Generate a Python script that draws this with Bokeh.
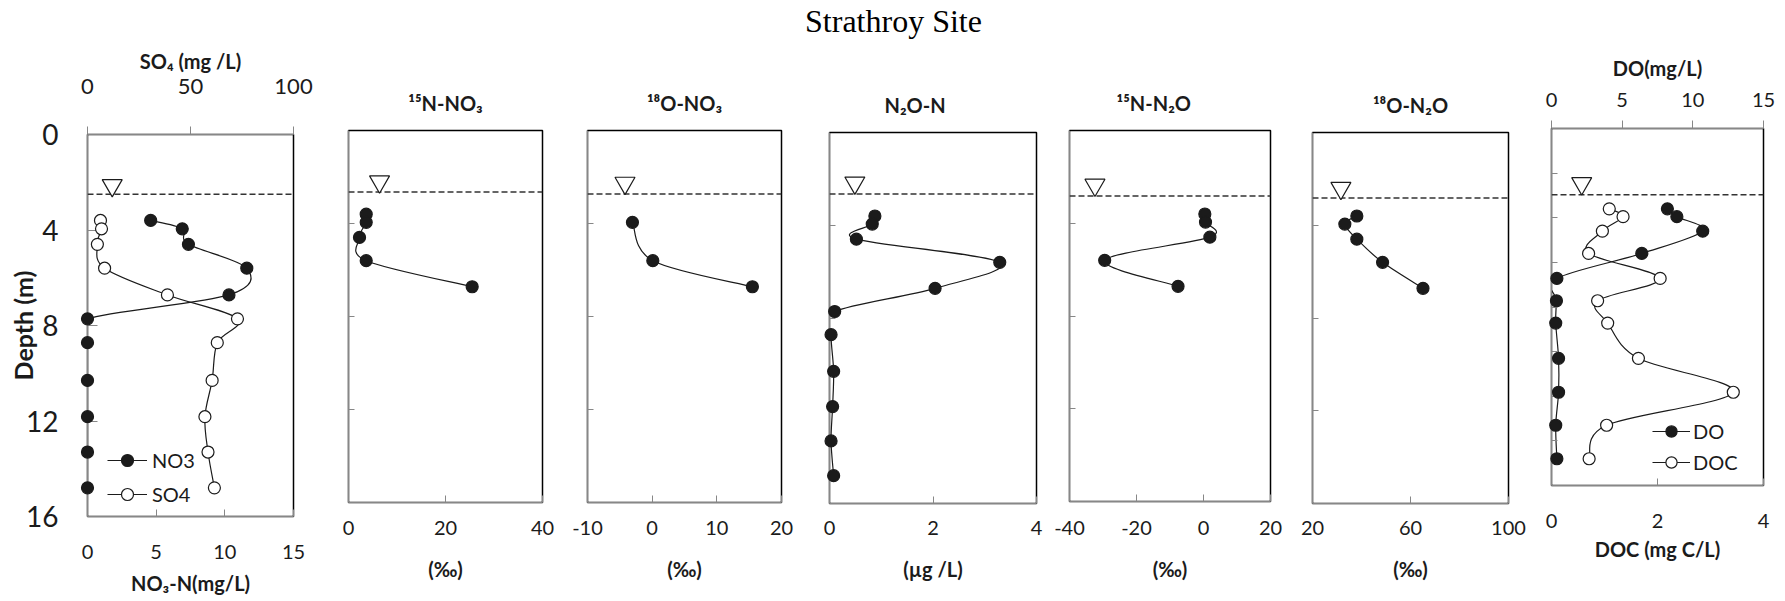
from bokeh.plotting import figure
from bokeh.models import (Range1d, LinearAxis, FixedTicker, Span, Legend, LegendItem,
                          ColumnDataSource, CustomJSTickFormatter)
from bokeh.layouts import row, column
from bokeh.embed import file_html
from bokeh.resources import INLINE
from bokeh.core.validation import silence
from bokeh.core.validation.warnings import MISSING_RENDERERS

silence(MISSING_RENDERERS, True)

# ---------------- data ----------------
depth = [3.6, 3.95, 4.6, 5.6, 6.72, 7.72, 8.72, 10.3, 11.82, 13.3, 14.8]
no3_n = [4.6, 6.9, 7.35, 11.6, 10.3, 0.0, 0.0, 0.0, 0.0, 0.0, 0.0]
so4 = [6.3, 6.8, 4.8, 8.3, 38.8, 72.8, 63.0, 60.5, 57.0, 58.5, 61.6]
iso_depth = [3.6, 3.95, 4.6, 5.6, 6.72]
d15n_no3 = [3.65, 3.65, 2.27, 3.65, 25.5]
d18o_no3_depth = [3.95, 5.6, 6.72]
d18o_no3 = [-3.05, 0.1, 15.5]
n2o_n = [0.877, 0.826, 0.52, 3.29, 2.04, 0.10, 0.03, 0.08, 0.06, 0.03, 0.08]
d15n_n2o = [0.4, 0.6, 1.9, -29.5, -7.6]
d18o_n2o = [38.1, 33.2, 38.1, 48.6, 65.1]
do_mg = [8.2, 8.87, 10.7, 6.39, 0.38, 0.35, 0.3, 0.5, 0.5, 0.3, 0.38]
doc_mg = [1.09, 1.35, 0.96, 0.70, 2.05, 0.87, 1.06, 1.64, 3.43, 1.04, 0.71]

# water table (dashed line) and its marker, per panel
wt_depth = [2.5, 2.65, 2.73, 2.65, 2.83, 2.82, 2.97]
wt_marker_depth = [2.13, 2.2, 2.26, 2.17, 2.35, 2.4, 2.46]
wt_marker_x = [1.8, 6.4, -4.2, 0.49, -32.4, 31.6, 0.57]

main_title = "Strathroy Site"
panel_titles = ["", "¹⁵N-NO₃", "¹⁸O-NO₃", "N₂O-N", "¹⁵N-N₂O", "¹⁸O-N₂O", ""]
bottom_labels = ["NO₃-N(mg/L)", "(‰)", "(‰)", "(µg /L)", "(‰)", "(‰)", "DOC (mg C/L)"]
top_labels = ["SO₄ (mg /L)", "DO(mg/L)"]
x_limits = [(0, 15), (0, 40), (-10, 20), (0, 4), (-40, 20), (20, 100), (0, 4)]
x_ticks = [[0, 5, 10, 15], [0, 20, 40], [-10, 0, 10, 20], [0, 2, 4], [-40, -20, 0, 20], [20, 60, 100], [0, 2, 4]]
depth_ticks_main = [0, 4, 8, 12, 16]
so4_ticks = [0, 50, 100]
do_ticks = [0, 5, 10, 15]

FONT = "Lato"
GREY = "#878787"
INK = "#1b1b1b"

TITLE_H = 40
ROW_H = 560
# width, min_border left, right, top, bottom
geom = [
    (320, 87, 27, 94, 84),
    (244, 28, 22, 90, 98),
    (241, 23, 24, 90, 98),
    (245, 24, 14, 92, 97),
    (241, 19, 21, 90, 99),
    (238, 21, 21, 92, 97),
    (248, 22, 14, 88, 115),
]
# bottom tick-label standoff, bottom axis-label standoff
bottom_std = [(28, 9), (18, 19), (18, 19), (17, 19), (19, 19), (17, 19), (28, 6)]


def smooth(xs, ys):
    n = len(xs)
    d = dict(x0=[], y0=[], x1=[], y1=[], cx0=[], cy0=[], cx1=[], cy1=[])
    for i in range(n - 1):
        a = max(i - 1, 0)
        b = min(i + 2, n - 1)
        d["x0"].append(xs[i]); d["y0"].append(ys[i])
        d["x1"].append(xs[i + 1]); d["y1"].append(ys[i + 1])
        d["cx0"].append(xs[i] + (xs[i + 1] - xs[a]) / 6.0)
        d["cy0"].append(ys[i] + (ys[i + 1] - ys[a]) / 6.0)
        d["cx1"].append(xs[i + 1] - (xs[b] - xs[i]) / 6.0)
        d["cy1"].append(ys[i + 1] - (ys[b] - ys[i]) / 6.0)
    return ColumnDataSource(d)


def style_x_axis(ax, ticks, label, standoff, label_standoff):
    ax.ticker = FixedTicker(ticks=ticks)
    ax.formatter = CustomJSTickFormatter(code="return tick.toString()")
    ax.axis_label = label
    ax.axis_line_color = GREY
    ax.major_tick_line_color = GREY
    ax.minor_tick_line_color = None
    ax.major_tick_in = 7
    ax.major_tick_out = 0
    ax.major_label_standoff = standoff
    ax.major_label_text_font = FONT
    ax.major_label_text_font_size = "20px"
    ax.major_label_text_color = INK
    ax.axis_label_standoff = label_standoff
    ax.axis_label_text_font = FONT
    ax.axis_label_text_font_size = "20px"
    ax.axis_label_text_font_style = "bold"
    ax.axis_label_text_color = INK


def make_panel(i, left_ticks):
    w, ml, mr, mt, mb = geom[i]
    x0, x1 = x_limits[i]
    p = figure(width=w, height=ROW_H, x_range=Range1d(x0, x1), y_range=Range1d(16, 0),
               output_backend="svg", toolbar_location=None,
               min_border_left=ml, min_border_right=mr, min_border_top=mt, min_border_bottom=mb)
    try:
        p.frame_align = False
    except Exception:
        pass
    p.grid.visible = False
    p.outline_line_color = "black"
    p.outline_line_width = 1.5
    p.background_fill_color = "white"
    p.border_fill_color = "white"
    style_x_axis(p.xaxis[0], x_ticks[i], bottom_labels[i], bottom_std[i][0], bottom_std[i][1])
    ya = p.yaxis[0]
    ya.ticker = FixedTicker(ticks=left_ticks)
    ya.axis_line_color = GREY
    ya.major_tick_line_color = GREY
    ya.minor_tick_line_color = None
    ya.major_tick_in = 6
    ya.major_tick_out = 0
    ya.major_label_standoff = 0
    ya.formatter = CustomJSTickFormatter(code="return ''")
    if panel_titles[i]:
        p.title.text = panel_titles[i]
        p.title.text_font = FONT
        p.title.text_font_size = "20px"
        p.title.text_font_style = "bold"
        p.title.text_color = INK
        p.title.standoff = 31
        p.title.align = "center"
    p.add_layout(Span(location=wt_depth[i], dimension="width", line_color="#333333",
                      line_width=1.5, line_dash="6 3"))
    p.scatter(x=[wt_marker_x[i]], y=[wt_marker_depth[i]], marker="inverted_triangle", size=20,
              fill_color="white", line_color=INK, line_width=1.2, level="overlay")
    return p


def data_series(p, xs, ys, filled=True, range_name="default"):
    bz = p.bezier(x0="x0", y0="y0", x1="x1", y1="y1", cx0="cx0", cy0="cy0", cx1="cx1", cy1="cy1",
                  source=smooth(xs, ys), line_color=INK, line_width=1.2, x_range_name=range_name)
    sc = p.scatter(x=xs, y=ys, size=12, marker="circle",
                   fill_color=INK if filled else "white", line_color=INK, line_width=1.2,
                   level="overlay", x_range_name=range_name)
    return bz, sc


def legend(items, loc, spacing, gw, gh, standoff):
    return Legend(items=items, location=loc, orientation="vertical", border_line_color=None,
                  background_fill_alpha=0, padding=0, margin=0, spacing=spacing,
                  glyph_width=gw, glyph_height=gh, label_height=gh, label_standoff=standoff,
                  label_text_font=FONT, label_text_font_size="20px", label_text_color=INK)


# ---------- panel 1: NO3 / SO4 ----------
p1 = make_panel(0, depth_ticks_main)
p1.extra_x_ranges = {"so4": Range1d(0, 100)}
ya = p1.yaxis[0]
ya.formatter = CustomJSTickFormatter(code="return tick.toString()")
ya.major_tick_in = 10
ya.major_label_standoff = 29
ya.major_label_text_font = FONT
ya.major_label_text_font_size = "28px"
ya.major_label_text_color = INK
ya.axis_label = "Depth (m)"
ya.axis_label_text_font = FONT
ya.axis_label_text_font_size = "25px"
ya.axis_label_text_font_style = "bold"
ya.axis_label_text_color = INK
ya.axis_label_standoff = -15
top1 = LinearAxis(x_range_name="so4")
style_x_axis(top1, so4_ticks, top_labels[0], 33, 3)
top1.major_tick_in = 0
top1.major_tick_out = 8
top1.major_label_text_font_size = "22px"
p1.add_layout(top1, "above")
bz_no3, sc_no3 = data_series(p1, no3_n, depth, True)
bz_so4, sc_so4 = data_series(p1, so4, depth, False, "so4")
p1.add_layout(legend([LegendItem(label="NO3", renderers=[bz_no3, sc_no3]),
                      LegendItem(label="SO4", renderers=[bz_so4, sc_so4])],
                     (20, 7), 4, 40, 30, 5))

# ---------- panel 2: 15N-NO3 ----------
p2 = make_panel(1, [4, 8, 12])
data_series(p2, d15n_no3, iso_depth, True)

# ---------- panel 3: 18O-NO3 ----------
p3 = make_panel(2, [4, 8, 12])
data_series(p3, d18o_no3, d18o_no3_depth, True)

# ---------- panel 4: N2O-N ----------
p4 = make_panel(3, [4, 8, 12])
p4.title.align = "left"
p4.title.offset = 55
data_series(p4, n2o_n, depth, True)

# ---------- panel 5: 15N-N2O ----------
p5 = make_panel(4, [4, 8, 12])
p5.title.align = "left"
p5.title.offset = 47
data_series(p5, d15n_n2o, iso_depth, True)

# ---------- panel 6: 18O-N2O ----------
p6 = make_panel(5, [4, 8, 12])
data_series(p6, d18o_n2o, iso_depth, True)

# ---------- panel 7: DO / DOC ----------
p7 = make_panel(6, [2, 4, 6, 8, 10, 12, 14])
p7.extra_x_ranges = {"do": Range1d(0, 15)}
top7 = LinearAxis(x_range_name="do")
style_x_axis(top7, do_ticks, top_labels[1], 14, 10)
top7.major_tick_in = 0
top7.major_tick_out = 8
p7.add_layout(top7, "above")
bz_do, sc_do = data_series(p7, do_mg, depth, True, "do")
bz_doc, sc_doc = data_series(p7, doc_mg, depth, False)
p7.add_layout(legend([LegendItem(label="DO", renderers=[bz_do, sc_do]),
                      LegendItem(label="DOC", renderers=[bz_doc, sc_doc])],
                     (101, 9), 3, 38, 28, 3))

# ---------- title strip ----------
pt = figure(width=1777, height=TITLE_H, x_axis_type=None, y_axis_type=None,
            output_backend="svg", toolbar_location=None,
            min_border_left=9, min_border_right=0, min_border_top=5, min_border_bottom=0,
            title=main_title)
pt.outline_line_color = None
pt.grid.visible = False
pt.title.text_font = "Liberation Serif"
pt.title.text_font_size = "32px"
pt.title.text_font_style = "normal"
pt.title.text_color = "black"
pt.title.align = "center"
pt.title.standoff = 0

layout = column(pt, row(p1, p2, p3, p4, p5, p6, p7))
open("out.html", "w").write(file_html(layout, INLINE))
